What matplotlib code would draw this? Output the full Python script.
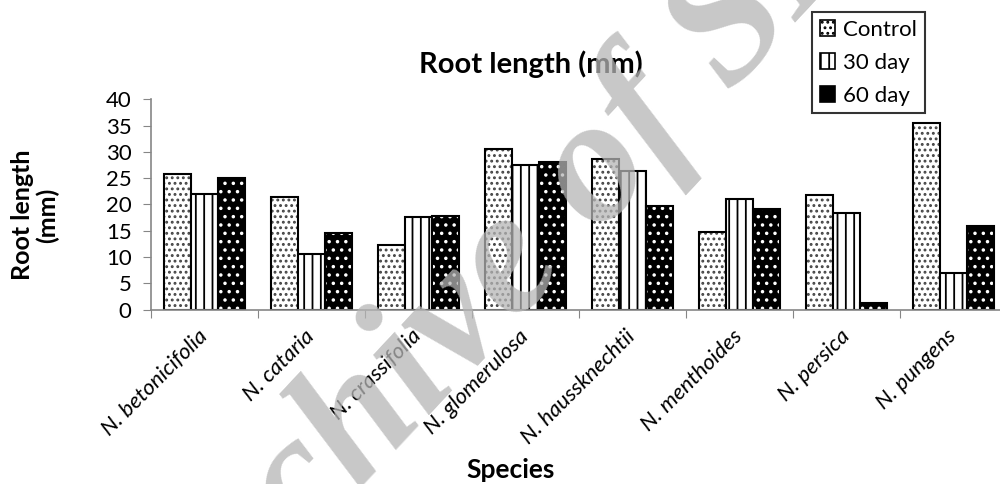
import numpy as np
import matplotlib
matplotlib.use("Agg")
import matplotlib.pyplot as plt
from matplotlib.patches import Patch

species = ["N. betonicifolia", "N. cataria", "N. crassifolia", "N. glomerulosa",
           "N. haussknechtii", "N. menthoides", "N. persica", "N. pungens"]
control = [25.7, 21.4, 12.3, 30.6, 28.6, 14.7, 21.7, 35.4]
day30 = [21.9, 10.6, 17.6, 27.4, 26.3, 21.1, 18.4, 7.0]
day60 = [25.0, 14.5, 17.7, 28.0, 19.6, 19.2, 1.3, 15.9]
series_names = ["Control", "30 day", "60 day"]

plt.rcParams["font.family"] = "Lato"
plt.rcParams["hatch.linewidth"] = 1.3

grey = "#868686"

# (face, hatch colour, hatch) for each series
styles = [
    ("white", "#444444", "..."),
    ("white", "black", "||"),
    ("black", "white", ".."),
]

fig = plt.figure(figsize=(10, 4.84), dpi=100)
ax = fig.add_axes([0.151, 0.3605, 0.849, 0.4345])

x = np.arange(len(species))
w = 0.255

for i, vals in enumerate([control, day30, day60]):
    face, hcol, hatch = styles[i]
    pos = x + (i - 1) * w
    # hatched fill first, then a plain black outline on top
    ax.bar(pos, vals, w, color=face, edgecolor=hcol, hatch=hatch, linewidth=0)
    ax.bar(pos, vals, w, fill=False, edgecolor="black", linewidth=1.5)

ax.set_xlim(-0.5, 7.435)
ax.set_ylim(0, 40)
ax.set_yticks(range(0, 41, 5))

# tick marks sit between the groups, labels sit under the group centres
ax.set_xticks(np.arange(-0.5, 7.5, 1))
ax.set_xticklabels([])
ax.set_xticks(x, minor=True)
ax.set_xticklabels(species, minor=True, rotation=45, ha="right", va="center",
                   rotation_mode="anchor", fontstyle="italic", fontsize=16)

ax.tick_params(axis="y", labelsize=16, length=6, color=grey, pad=8)
ax.tick_params(axis="x", which="major", length=6, color=grey)
ax.tick_params(axis="x", which="minor", length=0, pad=17)

for side in ["top", "right"]:
    ax.spines[side].set_visible(False)
for side in ["left", "bottom"]:
    ax.spines[side].set_color(grey)
    ax.spines[side].set_linewidth(1.2)

fig.text(0.531, 1 - 73 / 484, "Root length (mm)", ha="center", va="baseline",
         fontsize=21, fontweight="bold")
fig.text(0.035, 1 - 215 / 484, "Root length\n(mm)", rotation=90, ha="center",
         va="center", multialignment="center", fontsize=18, fontweight="bold",
         linespacing=1.05)
fig.text(0.511, 1 - 478 / 484, "Species", ha="center", va="baseline",
         fontsize=19, fontweight="bold")

handles = [Patch(facecolor=s[0], edgecolor="black", hatch=s[2], linewidth=1.2)
           for s in styles]
leg = fig.legend(handles, series_names, loc="upper left",
                 bbox_to_anchor=(0.812, 1 - 12 / 484), fontsize=16,
                 frameon=True, fancybox=False, edgecolor="black",
                 handlelength=0.7, handleheight=0.7, handletextpad=0.35,
                 borderpad=0.35, labelspacing=0.58, borderaxespad=0)
leg.get_frame().set_linewidth(1.5)

# archive stamp across the figure
fig.text(0.525, 1 - 258 / 484, "Archive of SID", rotation=47,
         rotation_mode="anchor", ha="center", va="center",
         family="Liberation Serif", fontstyle="italic", fontweight="bold",
         fontsize=128, color="#b5b5b5", alpha=0.75)

fig.savefig("out.png", dpi=100)
